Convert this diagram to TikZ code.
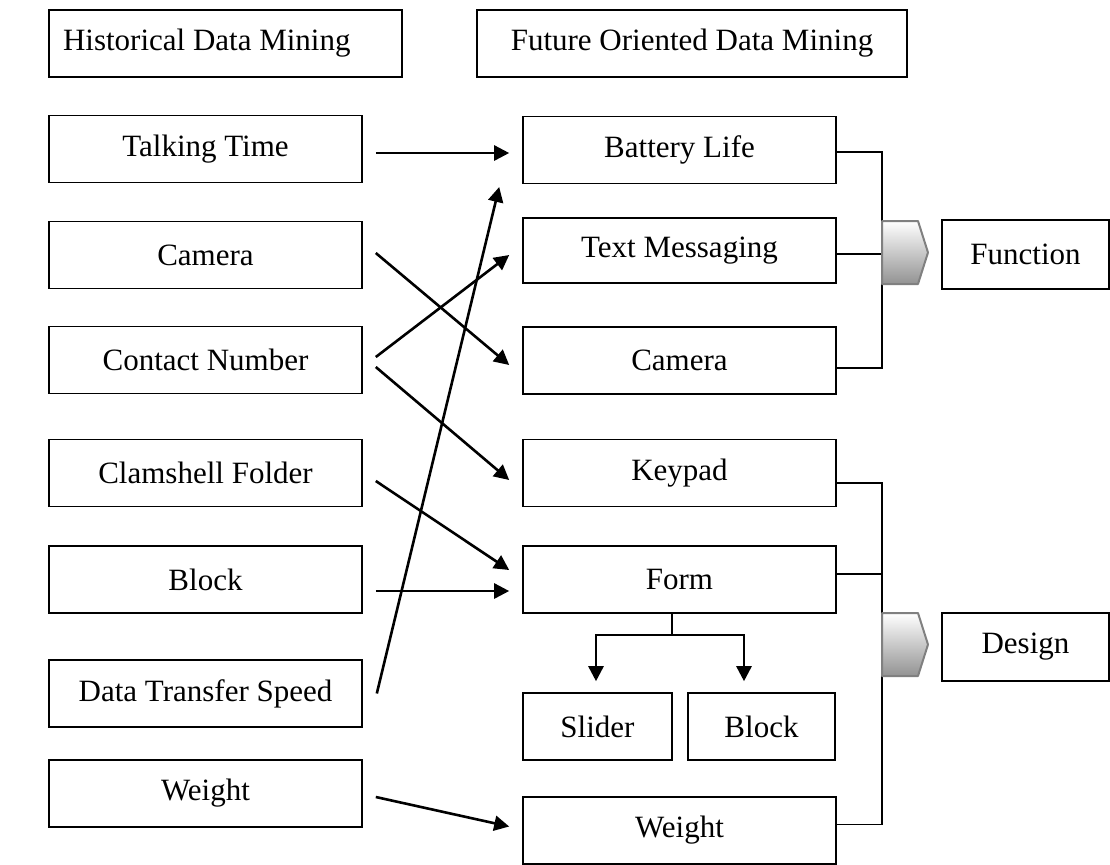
\documentclass[tikz,border=0pt]{standalone}
\usepackage{fontspec}
\setmainfont{Liberation Serif}
\usetikzlibrary{arrows.meta}

\begin{document}
\begin{tikzpicture}[x=0.5pt,y=-0.5pt,
    box/.style ={rectangle, draw, line width=0.8pt, inner sep=0pt, minimum height=33.5pt, font=\fontsize{15.5}{18}\selectfont},
    side/.style ={box, minimum width=156.5pt},
    link/.style ={line width=1.3pt, -{Triangle[length=7.5pt,width=7.5pt]}},
    bracket/.style ={line width=0.6pt},
    tab/.style ={draw=gray, line width=1pt, top color=white, bottom color=gray!85, line join=round}]
   \useasboundingbox (0,0) rectangle (1110,864);

   \node[box, minimum width=176.5pt, text width=162.5pt, align=flush left] (H) at (225.5,43.5) {Historical Data Mining};
   \node[box, minimum width=215pt] (F) at (692,43.5) {Future Oriented Data Mining};

   \node[side] (TT) at (205.5,149) {Talking Time};
   \node[side] (CA) at (205.5,255) {Camera};
   \node[side] (CN) at (205.5,360) {Contact Number};
   \node[side] (CF) at (205.5,473) {Clamshell Folder};
   \node[side] (BL) at (205.5,579.5) {Block};
   \node[side] (DS) at (205.5,693.5) {Data Transfer Speed};
   \node[side] (WE) at (205.5,793.5) {Weight};

   \node[side] (BA) at (679.5,150) {Battery Life};
   \node[side, minimum height=32.5pt] (TM) at (679.5,250.5) {Text Messaging};
   \node[side] (CM) at (679.5,360.5) {Camera};
   \node[side] (KP) at (679.5,473) {Keypad};
   \node[side] (FO) at (679.5,579.5) {Form};
   \node[box, minimum width=74.5pt] (SL) at (597.5,726.5) {Slider};
   \node[box, minimum width=73.5pt] (BK) at (761.5,726.5) {Block};
   \node[side] (WT) at (679.5,830.5) {Weight};

   \node[box, minimum width=83.5pt, minimum height=34.5pt] (FN) at (1025.5,254.5) {Function};
   \node[box, minimum width=83.5pt, minimum height=34pt] (DE) at (1025.5,647) {Design};

   \coordinate (FJ) at (882,254);
   \coordinate (DJ) at (882,644);
   \coordinate (FS) at (672,635);

   \draw[link] ([xshift=6.5pt,yshift=-2pt]TT.east) to ([xshift=-6.5pt,yshift=-1.5pt]BA.west);
   \draw[link] ([xshift=6.5pt,yshift=1pt]CA.east) to ([xshift=-6.5pt,yshift=-2.25pt]CM.west);
   \draw[link] ([xshift=6.5pt,yshift=1.5pt]CN.east) to ([xshift=-6.5pt,yshift=-2.25pt]TM.west);
   \draw[link] ([xshift=6.5pt,yshift=-3.5pt]CN.east) to ([xshift=-6.5pt,yshift=-3.5pt]KP.west);
   \draw[link] ([xshift=6.5pt,yshift=-4pt]CF.east) to ([xshift=-6.5pt,yshift=4.75pt]FO.west);
   \draw[link] ([xshift=6.5pt,yshift=-5.75pt]BL.east) to ([xshift=-6.5pt,yshift=-5.75pt]FO.west);
   \draw[link] ([xshift=7pt]DS.east) to ([xshift=-11.5pt,yshift=-18.5pt]BA.west);
   \draw[link] ([xshift=6.5pt,yshift=-1.75pt]WE.east) to ([xshift=-6.5pt,yshift=2pt]WT.west);

   \draw[bracket] ([yshift=-1pt]BA.east) -| (FJ) |- ([yshift=-3.75pt]CM.east);
   \draw[bracket] ([yshift=-1.75pt]TM.east) to (FJ);
   \draw[bracket] ([yshift=-5pt]KP.east) -| (DJ) |- ([yshift=3pt]WT.east);
   \draw[bracket] ([yshift=2.75pt]FO.east) to ([yshift=2.75pt]FO.east -| DJ);

   \draw[bracket] ([xshift=-3.75pt]FO.south) to (FS);
   \draw[link] (FS) -| ([xshift=-0.75pt,yshift=5.5pt]SL.north);
   \draw[link] (FS) -| ([xshift=-8.75pt,yshift=5.5pt]BK.north);

   \draw[tab] (882,221) -- (918,221) -- (928,252.5) -- (918,284) -- (882,284) -- cycle;
   \draw[tab] (882,613) -- (918,613) -- (928,644.5) -- (918,676) -- (882,676) -- cycle;
 \end{tikzpicture}
\end{document}
